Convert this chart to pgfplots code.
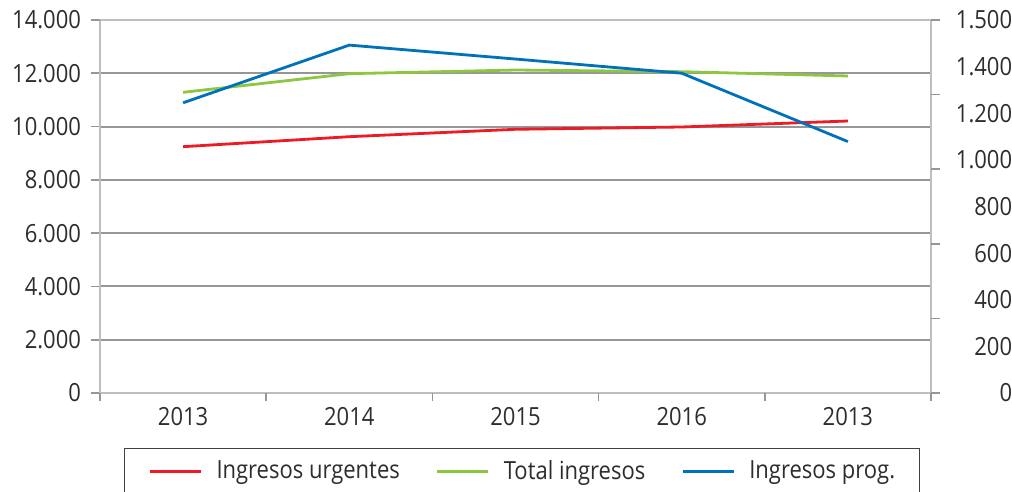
\documentclass[border=0pt]{standalone}
\usepackage{pgfplots}
\pgfplotsset{compat=1.18}
\usepackage{fontspec}
\setmainfont{Open Sans}[FakeStretch=0.88]
\definecolor{cred}{RGB}{237,28,36}
\definecolor{cgreen}{RGB}{141,198,63}
\definecolor{cblue}{RGB}{0,114,188}
\definecolor{cgrid}{RGB}{150,150,150}
\definecolor{caxis}{RGB}{190,190,190}
\definecolor{ctext}{RGB}{45,45,45}
\begin{document}
\begin{tikzpicture}
\pgfplotsset{
  common/.style={
    scale only axis, width=415.5pt, height=186.5pt,
    at={(0,0)}, anchor=south west,
    xmin=-0.5, xmax=4.5,
    font=\fontsize{12.5}{14}\selectfont\color{ctext},
    tick align=outside,
    scaled y ticks=false,
    /pgf/number format/assume math mode=true,
    /pgf/number format/.cd, 1000 sep={.}, /pgfplots/.cd,
  }
}
\begin{axis}[common,
  axis x line*=bottom, axis y line*=left,
  axis line style={draw=caxis, line width=1pt, -},
  ymin=0, ymax=14000,
  ytick={0,2000,...,12000},
  extra y ticks={14000},
  extra y tick style={grid style={draw=caxis, line width=0.8pt}},
  ymajorgrids,
  grid style={draw=cgrid, line width=1pt},
  major tick length=4.5pt,
  every tick/.style={draw=cgrid, line width=0.8pt},
  yticklabel style={xshift=-1.5pt},
  xtick={0,1,2,3,4},
  xticklabels={2013,2014,2015,2016,2013},
  xtick style={draw=none},
  xticklabel style={yshift=1pt},
  extra x ticks={-0.5,0.5,1.5,2.5,3.5,4.5},
  extra x tick labels={},
  extra x tick style={grid=none, major tick length=4pt, xtick style={draw=cgrid, line width=0.8pt}},
]
\addplot[cred, line width=1.4pt] coordinates {(0,9245) (1,9620) (2,9898) (3,9984) (4,10209)};
\addplot[cgreen, line width=1.4pt] coordinates {(0,11286) (1,11985) (2,12123) (3,12060) (4,11898)};
\end{axis}
\begin{axis}[common,
  axis x line=none, axis y line*=right,
  axis line style={draw=caxis, line width=1pt, -},
  ymin=0, ymax=1500,
  ytick={0,187.5,375,562.5,750,937.5,1125,1312.5,1500},
  yticklabels={0,200,400,600,800,1.000,1.200,1.400,1.500},
  ytick style={draw=none},
  yticklabel style={anchor=east, inner sep=0pt, xshift=36.5pt},
  extra y ticks={0,300,600,900,1200,1500},
  extra y tick labels={},
  extra y tick style={major tick length=4.5pt, ytick style={draw=cgrid, line width=0.8pt}},
  legend columns=3,
  legend style={at={(axis description cs:0.02888,-0.14745)}, anchor=north west,
    draw=black!75, line width=0.5pt, inner xsep=12pt, inner ysep=6pt,
    nodes={inner sep=0pt, text=ctext},
    /tikz/every odd column/.append style={column sep=7pt},
    /tikz/every even column/.append style={column sep=18pt},
    font=\fontsize{12.5}{14}\selectfont},
  legend image code/.code={\draw[#1, line width=1.5pt] (0pt,0pt) -- (25.5pt,0pt);},
]
\addlegendimage{cred, line width=1.4pt}
\addlegendentry{Ingresos urgentes}
\addlegendimage{cgreen, line width=1.4pt}
\addlegendentry{Total ingresos}
\addplot[cblue, line width=1.4pt] coordinates {(0,1167) (1,1399) (2,1343) (3,1286) (4,1011)};
\addlegendentry{Ingresos prog.}
\end{axis}
\pgfresetboundingbox
\path[use as bounding box] (-50pt,-49.5pt) rectangle (456pt,196.5pt);
\end{tikzpicture}
\end{document}
